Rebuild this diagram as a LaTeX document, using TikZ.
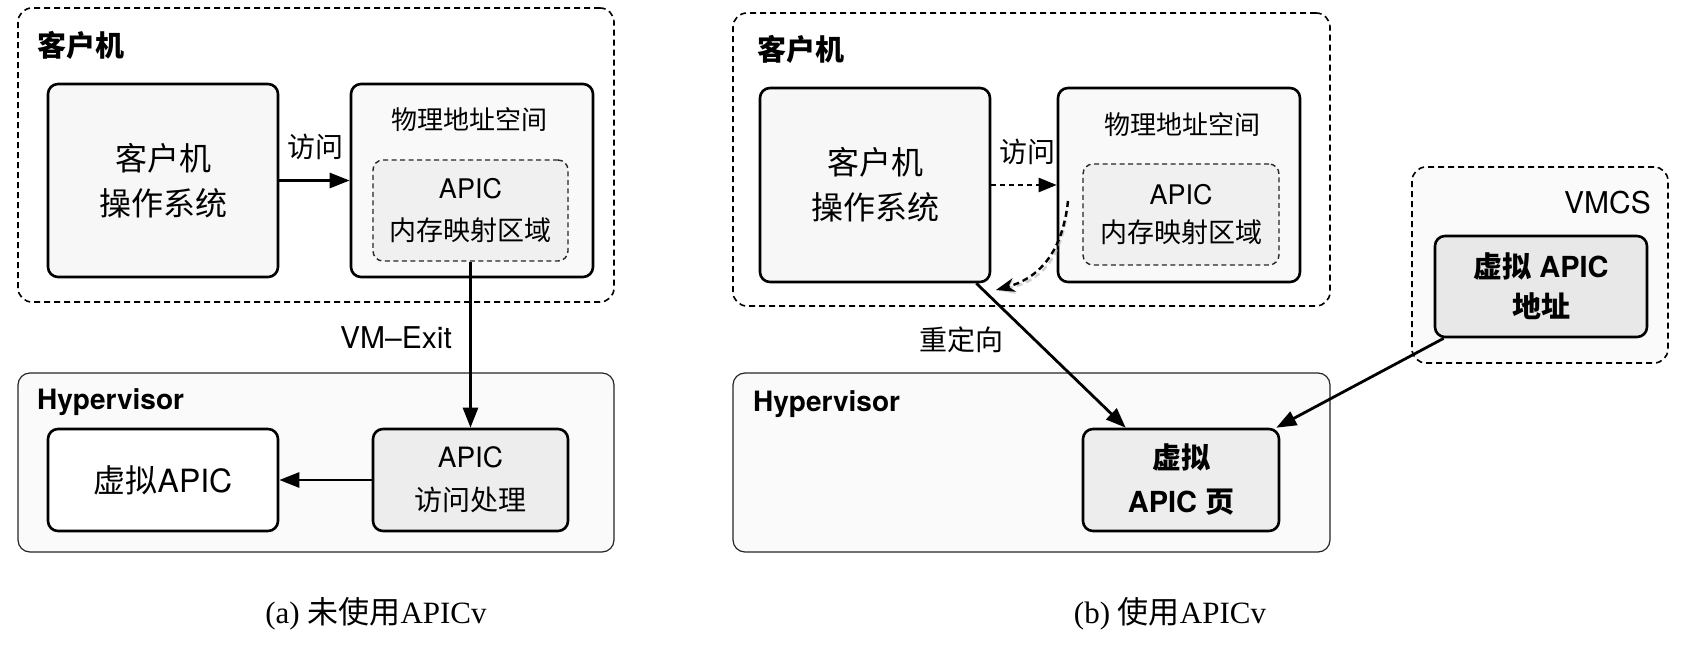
\documentclass[tikz,border=0pt]{standalone}
\usepackage{fontspec}
\setmainfont{TeX Gyre Heros}
\newfontfamily\cjk{Noto Sans CJK SC}
\newfontfamily\capserif{Liberation Serif}
\usetikzlibrary{arrows.meta,calc}
\newcommand\zhs[1]{{\cjk #1}}
\begin{document}
\begin{tikzpicture}[x=1pt,y=-1pt,
  box/.style={draw=black, line width=2.6pt, rounded corners=10pt, inner sep=0pt, align=center},
  outerdash/.style={draw=black, line width=1.6pt, dash pattern=on 6pt off 4pt, rounded corners=14pt, inner sep=0pt},
  innerdash/.style={draw=black!85, line width=1.4pt, dash pattern=on 5pt off 3.5pt, rounded corners=10pt, inner sep=0pt, align=center},
  hypbox/.style={draw=black!85, line width=1.2pt, fill=black!2, rounded corners=12pt, inner sep=0pt},
  arr/.style={line width=2.8pt, -{Triangle[length=20pt,width=15pt]}},
  dasharr/.style={line width=2.4pt, dash pattern=on 5pt off 4pt, -{Triangle[length=18pt,width=14pt]}},
  curvarr/.style={line width=2.4pt, dash pattern=on 6pt off 4pt, -{Stealth[length=19pt,width=14pt]}},
  zhlabel/.style={font=\cjk\fontsize{28}{28}\selectfont, inner sep=0pt},
  grouplabel/.style={font=\cjk\bfseries\fontsize{29}{29}\selectfont, inner sep=0pt, anchor=west},
  hyplabel/.style={font=\bfseries\fontsize{28}{28}\selectfont, inner sep=0pt, anchor=west},
  captxt/.style={font=\fontsize{31}{31}\selectfont, inner sep=0pt}
]
\useasboundingbox (0,0) rectangle (1682,647);

% ---------------- (a) ----------------
\node[outerdash, fill=white, minimum width=596pt, minimum height=294pt] (guestA) at (316,155) {};
\node[grouplabel] (guestAl) at (37,45) {客户机};
\node[box, fill=black!3, minimum width=230pt, minimum height=193pt, font=\cjk\fontsize{32}{45}\selectfont] (osA) at (163,180.5) {客户机\\操作系统};
\node[box, fill=black!2.5, minimum width=242pt, minimum height=193pt] (physA) at (472,180.5) {};
\node[font=\cjk\fontsize{26}{26}\selectfont, inner sep=0pt] (physAt) at (469,120) {物理地址空间};
\node[innerdash, fill=black!6, minimum width=195pt, minimum height=101pt, font=\fontsize{27}{42}\selectfont] (mmioA) at (470.5,210.5) {APIC\\\zhs{内存映射区域}};
\node[zhlabel] (accA) at (315,147) {访问};
\draw[arr] (osA.east) -- (physA.west);

\node[hypbox, minimum width=596pt, minimum height=179pt] (hypA) at (316,462.5) {};
\node[hyplabel] (hypAl) at (37,402) {Hypervisor};
\node[box, fill=white, minimum width=230pt, minimum height=102pt, font=\fontsize{32}{45}\selectfont] (vapicA) at (163,480) {\zhs{虚拟}APIC};
\node[box, fill=black!7, minimum width=195pt, minimum height=102pt, font=\fontsize{28}{43}\selectfont] (handleA) at (470.5,480) {APIC\\\zhs{访问处理}};
\node[font=\fontsize{30}{30}\selectfont, inner sep=0pt] (vmexit) at (396,338) {VM–Exit};
\draw[arr] (mmioA.south) -- (handleA.north);
\draw[arr] (handleA.west) -- (vapicA.east);
\node[captxt] (capA) at (376,614) {{\capserif (a) }{\cjk 未使用}{\capserif APICv}};

% ---------------- (b) ----------------
\node[outerdash, fill=white, minimum width=597pt, minimum height=293pt] (guestB) at (1031.5,159.5) {};
\node[grouplabel] (guestBl) at (757,49) {客户机};
\node[box, fill=black!3, minimum width=230pt, minimum height=194pt, font=\cjk\fontsize{32}{45}\selectfont] (osB) at (875,185) {客户机\\操作系统};
\node[box, fill=black!2.5, minimum width=242pt, minimum height=194pt] (physB) at (1179,185) {};
\node[font=\cjk\fontsize{26}{26}\selectfont, inner sep=0pt] (physBt) at (1182,125) {物理地址空间};
\node[innerdash, fill=black!6, minimum width=196pt, minimum height=101pt, font=\fontsize{27}{38}\selectfont] (mmioB) at (1181,214.5) {APIC\\\zhs{内存映射区域}};
\node[zhlabel] (accB) at (1027,152) {访问};
\draw[dasharr] (osB.east) -- (physB.west);
\coordinate (cs) at (1068,201);
\coordinate (ce) at (996,290);
\draw[curvarr, black!30, opacity=.6, shift={(2,4)}] (cs) .. controls (1062,256) and (1036,279) .. (ce);
\draw[curvarr] (cs) .. controls (1062,256) and (1036,279) .. (ce);

\node[hypbox, minimum width=597pt, minimum height=179pt] (hypB) at (1031.5,462.5) {};
\node[hyplabel] (hypBl) at (753,404) {Hypervisor};
\node[box, fill=black!7, minimum width=196pt, minimum height=102pt, font=\bfseries\fontsize{29}{44}\selectfont] (vpageB) at (1181,480) {\zhs{虚拟}\\APIC \zhs{页}};

\node[outerdash, fill=black!2, minimum width=256pt, minimum height=196pt] (vmcs) at (1540,265) {};
\node[font=\fontsize{30}{30}\selectfont, inner sep=0pt, anchor=east] (vmcsl) at (1651,203) {VMCS};
\node[box, fill=black!9, minimum width=212pt, minimum height=101pt, font=\bfseries\fontsize{29}{40}\selectfont] (vaddr) at (1541,286.5) {\zhs{虚拟} APIC\\\zhs{地址}};

\draw[arr] ([xshift=-15pt]osB.south east) -- ([xshift=44pt]vpageB.north west);
\node[zhlabel] (redir) at (961,340) {重定向};
\draw[arr] ([xshift=10pt]vaddr.south west) -- ([xshift=-4pt]vpageB.north east);
\node[captxt] (capB) at (1170,614) {{\capserif (b) }{\cjk 使用}{\capserif APICv}};
\end{tikzpicture}
\end{document}
